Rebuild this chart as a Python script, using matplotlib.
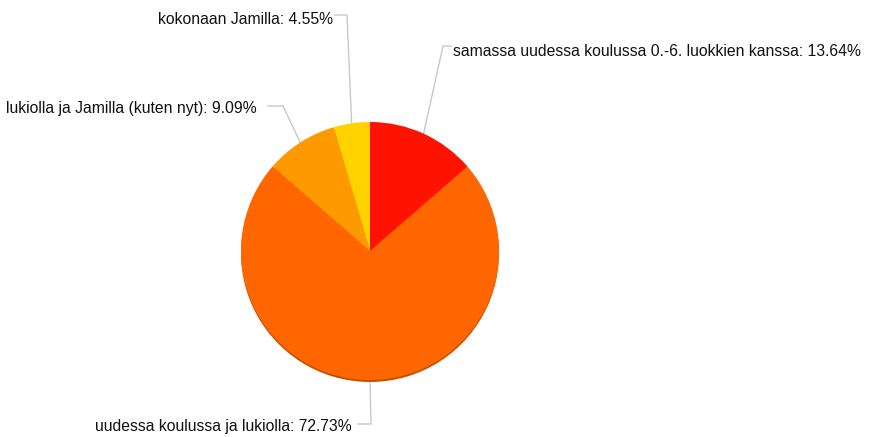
import numpy as np
import matplotlib.pyplot as plt

plt.rcParams['font.family'] = ['Liberation Sans', 'DejaVu Sans']

# Data
labels = ['samassa uudessa koulussa 0.-6. luokkien kanssa',
          'uudessa koulussa ja lukiolla',
          'lukiolla ja Jamilla (kuten nyt)',
          'kokonaan Jamilla']
values = [13.64, 72.73, 9.09, 4.55]
colors = ['#FF1200', '#FF6600', '#FF9900', '#FFD200']

# Layout (pixel coords, y measured from top)
W, H = 882, 437
cx, cy, r = 370, 251, 129
# elbow point of leader line and text anchor for each slice
elbows = [(443, 46), (371, 424), (283, 106), (347, 15)]
ends = [(451, 46), (358, 424), (268, 106), (335, 15)]
text_pos = [(453, 51, 'left'), (352, 427, 'right'), (257, 108, 'right'), (333, 19, 'right')]

fig = plt.figure(figsize=(W / 100, H / 100), dpi=100)
ax = fig.add_axes([0, 0, 1, 1])
ax.set_xlim(0, W)
ax.set_ylim(0, H)
ax.set_aspect('equal')
ax.axis('off')

def fy(y):
    return H - y

# subtle shadow rim below the pie
ax.pie(values, colors=['#C85000'] * len(values), startangle=90, counterclock=False,
       center=(cx, fy(cy) - 2), radius=r, wedgeprops=dict(linewidth=0))
ax.pie(values, colors=colors, startangle=90, counterclock=False,
       center=(cx, fy(cy)), radius=r, wedgeprops=dict(linewidth=0, antialiased=True))
ax.set_xlim(0, W)
ax.set_ylim(0, H)

total = sum(values)
cum = 0
for i, v in enumerate(values):
    mid = (cum + v / 2) / total * 2 * np.pi
    cum += v
    px = cx + r * np.sin(mid)
    py = cy - r * np.cos(mid)
    ex, ey = elbows[i]
    tx, ty = ends[i]
    ax.plot([px, ex, tx], [fy(py), fy(ey), fy(ty)], color='#c8c8c8', lw=1, zorder=0)
    x, y, ha = text_pos[i]
    ax.text(x, fy(y), f'{labels[i]}: {v:.2f}%', ha=ha, va='center', fontsize=11.3, color='#111111')

fig.savefig('out.png', dpi=100, facecolor='white')
